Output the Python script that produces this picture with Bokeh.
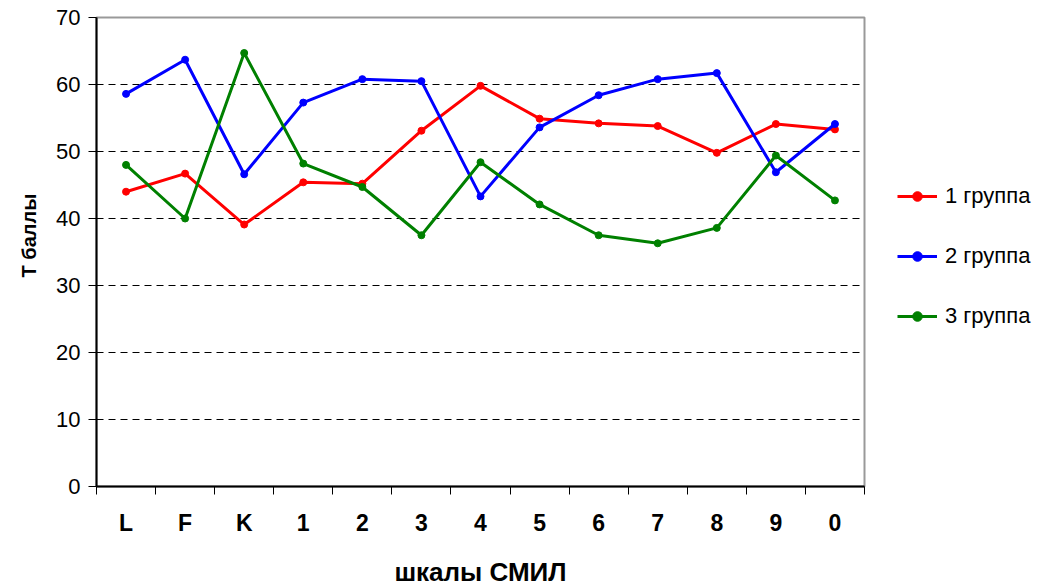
from bokeh.plotting import figure
from bokeh.models import FixedTicker, Legend, LegendItem, Range1d, Title
from bokeh.embed import file_html
from bokeh.resources import INLINE

categories = ["L", "F", "K", "1", "2", "3", "4", "5", "6", "7", "8", "9", "0"]
group1 = [44.0, 46.7, 39.1, 45.4, 45.2, 53.1, 59.8, 54.9, 54.2, 53.8, 49.8, 54.1, 53.3]
group2 = [58.6, 63.7, 46.6, 57.3, 60.8, 60.5, 43.3, 53.6, 58.4, 60.8, 61.7, 46.9, 54.1]
group3 = [48.0, 40.0, 64.7, 48.2, 44.7, 37.5, 48.4, 42.1, 37.5, 36.3, 38.6, 49.4, 42.7]
series_names = ["1 группа", "2 группа", "3 группа"]
series_colors = ["#FF0000", "#0000FF", "#008000"]
y_ticks = [0, 10, 20, 30, 40, 50, 60, 70]
x_title = "шкалы СМИЛ"
y_title = "Т баллы"

FONT = "Liberation Sans"

xs = [i + 0.5 for i in range(len(categories))]

p = figure(frame_width=768, frame_height=469, output_backend="svg", toolbar_location=None,
           x_range=Range1d(0, len(categories)), y_range=Range1d(0, 70),
           min_border_left=96, min_border_right=175, min_border_top=17, min_border_bottom=100)
p.background_fill_color = "white"
p.border_fill_color = "white"
p.outline_line_color = "#999999"
p.outline_line_width = 2

# axes
p.xaxis.ticker = FixedTicker(ticks=xs, minor_ticks=list(range(len(categories) + 1)))
p.xaxis.major_label_overrides = {x: c for x, c in zip(xs, categories)}
p.xaxis.major_tick_line_color = None
p.xaxis.minor_tick_out = 8
p.xaxis.minor_tick_in = 0
p.xaxis.minor_tick_line_color = "black"
p.xaxis.minor_tick_line_width = 1
p.xaxis.axis_line_color = "black"
p.xaxis.axis_line_width = 2
p.xaxis.major_label_text_font = FONT
p.xaxis.major_label_text_font_size = "23px"
p.xaxis.major_label_text_font_style = "bold"
p.xaxis.major_label_text_color = "black"
p.xaxis.major_label_standoff = 15
p.xaxis.axis_label = x_title
p.xaxis.axis_label_text_font = FONT
p.xaxis.axis_label_text_font_size = "26px"
p.xaxis.axis_label_text_font_style = "bold"
p.xaxis.axis_label_text_color = "black"
p.xaxis.axis_label_standoff = 18

p.yaxis.ticker = FixedTicker(ticks=y_ticks)
p.yaxis.minor_tick_line_color = None
p.yaxis.major_tick_out = 8
p.yaxis.major_tick_in = 0
p.yaxis.major_tick_line_color = "black"
p.yaxis.axis_line_color = "black"
p.yaxis.axis_line_width = 2
p.yaxis.major_label_text_font = FONT
p.yaxis.major_label_text_font_size = "22px"
p.yaxis.major_label_text_color = "black"
p.yaxis.major_label_standoff = 8

# y-axis title, placed a little above the frame centre as in the reference
p.add_layout(Title(text=y_title, align="left", offset=209, standoff=28,
                   text_font=FONT, text_font_size="20px", text_font_style="bold",
                   text_color="black"), "left")

p.xgrid.grid_line_color = None
p.ygrid.ticker = FixedTicker(ticks=y_ticks[1:-1])
p.ygrid.grid_line_color = "black"
p.ygrid.grid_line_dash = "7 5"
p.ygrid.grid_line_width = 1

items = []
for name, vals, col in zip(series_names, [group1, group2, group3], series_colors):
    r1 = p.line(xs, vals, line_color=col, line_width=3)
    r2 = p.scatter(xs, vals, marker="circle", size=7, fill_color=col, line_color=col)
    items.append(LegendItem(label=name, renderers=[r1, r2]))

legend = Legend(items=items, location=(33, 157), orientation="vertical",
                label_text_font=FONT, label_text_font_size="22px", label_text_color="black",
                glyph_width=40, glyph_height=24, label_height=24, spacing=34,
                border_line_color=None, background_fill_alpha=0, padding=0, margin=0,
                label_standoff=8)
p.add_layout(legend, "right")

open("out.html", "w").write(file_html(p, INLINE))
